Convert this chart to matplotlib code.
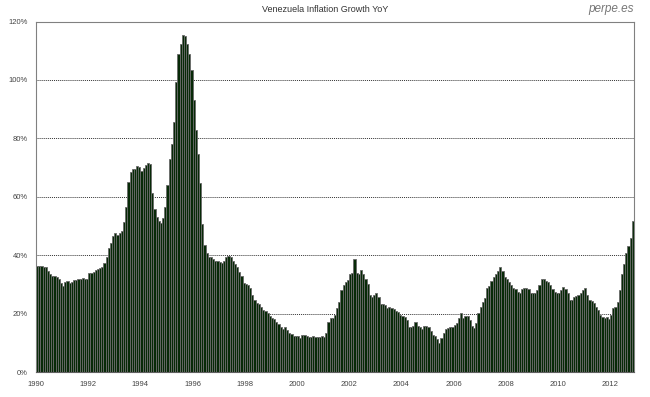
import matplotlib as mpl
mpl.use('Agg')
import matplotlib.pyplot as plt
import numpy as np

# monthly YoY inflation (%), starting Jan 1990
infl_1990_1993 = [36.4, 36.4, 36.4, 36.1, 36.1, 34.6, 33.5, 33.0, 33.0, 32.5, 31.8, 30.4,
                  29.6, 31.0, 31.2, 30.7, 31.0, 31.6, 31.6, 31.8, 31.9, 32.1, 31.9, 31.8,
                  34.1, 34.1, 34.2, 35.0, 35.3, 35.8, 36.1, 37.3, 39.3, 42.4, 44.3, 46.6,
                  47.8, 47.0, 47.5, 48.4, 51.5, 56.6, 65.2, 68.6, 69.5, 69.7, 70.5, 70.3]
infl_1994_1997 = [68.9, 69.9, 70.8, 71.6, 71.2, 61.2, 55.7, 53.0, 51.7, 51.1, 52.8, 56.6,
                  64.0, 72.8, 78.2, 85.6, 99.3, 109.0, 112.2, 115.3, 115.0, 112.4, 109.0, 103.3,
                  93.1, 82.8, 74.8, 64.6, 50.9, 43.5, 40.7, 39.5, 39.3, 38.6, 38.2, 38.2,
                  37.8, 37.3, 38.2, 39.3, 39.8, 39.3, 38.2, 37.0, 35.9, 34.4, 32.9, 30.7]
infl_1998_2001 = [30.2, 29.9, 28.7, 26.4, 24.7, 23.8, 23.4, 22.5, 21.3, 21.1, 20.2, 19.3,
                  18.5, 18.1, 17.3, 16.4, 15.6, 14.7, 15.4, 14.5, 13.3, 13.1, 12.4, 12.4,
                  12.4, 11.8, 12.8, 12.8, 12.4, 12.2, 12.2, 12.4, 12.2, 12.2, 12.2, 12.4,
                  12.2, 13.6, 17.3, 18.5, 18.5, 19.6, 21.9, 24.1, 28.1, 29.8, 31.0, 31.5]
infl_2002_2005 = [33.5, 34.1, 38.6, 34.1, 33.6, 35.0, 33.8, 31.8, 30.2, 26.4, 25.9, 26.4,
                  27.0, 25.9, 23.3, 23.5, 23.0, 21.9, 22.2, 21.9, 21.5, 21.0, 20.7, 19.6,
                  19.3, 18.8, 17.9, 15.6, 15.6, 15.9, 17.3, 15.9, 15.4, 14.7, 15.9, 15.9,
                  15.4, 14.2, 12.8, 12.4, 11.3, 10.1, 11.6, 13.3, 14.7, 15.0, 15.4, 15.6]
infl_2006_2009 = [16.2, 17.0, 18.5, 20.2, 18.5, 19.2, 19.2, 17.9, 15.8, 15.3, 17.0, 20.4,
                  22.2, 24.1, 25.3, 29.0, 29.5, 31.3, 32.7, 33.8, 34.7, 35.9, 34.7, 32.7,
                  31.8, 31.0, 29.8, 29.0, 28.4, 27.6, 27.2, 28.4, 28.7, 28.7, 28.4, 27.2,
                  27.0, 27.0, 28.1, 29.8, 31.8, 31.8, 31.3, 30.8, 29.8, 28.4, 27.6, 27.0]
infl_2010_2012 = [27.2, 28.1, 29.3, 28.4, 27.2, 24.7, 24.9, 25.6, 26.1, 26.4, 27.0, 28.1,
                  28.7, 26.4, 24.9, 24.5, 23.6, 22.2, 21.3, 19.6, 19.0, 18.5, 18.8, 18.1,
                  19.6, 21.9, 22.4, 24.1, 28.1, 33.6, 37.2, 40.7, 43.2, 46.1, 51.8]

years = list(range(1990, 2013, 2))
yticks = [0, 20, 40, 60, 80, 100, 120]

vals = np.array(infl_1990_1993 + infl_1994_1997 + infl_1998_2001 +
                infl_2002_2005 + infl_2006_2009 + infl_2010_2012)
n = len(vals)
x = np.arange(n)

plt.rcParams['font.family'] = ['Liberation Sans', 'DejaVu Sans']

fig = plt.figure(figsize=(6.5, 3.97), dpi=100)
ax = fig.add_axes([0.0554, 0.0622, 0.92, 0.8836])

ax.bar(x, vals, width=1.0, color='#072a07', edgecolor='#6a6a6a', linewidth=0.6, zorder=2)

ax.set_xlim(-0.5, n - 0.5)
ax.set_ylim(0, 120)
ax.set_yticks(yticks)
ax.set_yticklabels([str(v) + '%' for v in yticks])
ax.set_xticks([(y - 1990) * 12 - 0.5 for y in years])
ax.set_xticklabels([str(y) for y in years])
ax.tick_params(length=0, labelsize=5.5, colors='#444444', pad=6)

for v in yticks[1:-1]:
    ax.axhline(v, color='#333333', linestyle=(0, (1, 1)), linewidth=0.7, zorder=1)

for s in ['top', 'right', 'left']:
    ax.spines[s].set_color('#808080')
    ax.spines[s].set_linewidth(0.8)
ax.spines['bottom'].set_color('#606060')

fig.text(0.5, 0.975, 'Venezuela Inflation Growth YoY', ha='center', va='center',
         fontsize=6.5, color='#333333')
fig.text(0.975, 0.978, 'perpe.es', ha='right', va='center', fontsize=8.5,
         style='italic', color='#777777')

fig.savefig('out.png', dpi=100)
